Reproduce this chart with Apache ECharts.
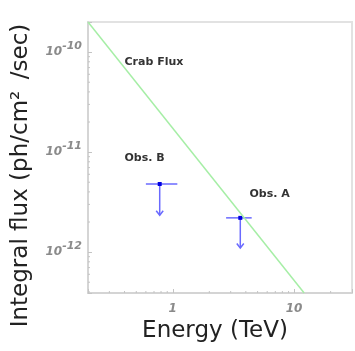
<!DOCTYPE html>
<html>
<head>
<meta charset="utf-8">
<script src="https://cdn.jsdelivr.net/npm/echarts@6/dist/echarts.min.js"></script>
<style>
  html, body { margin: 0; padding: 0; background: #fff; }
  #chart { width: 355px; height: 351px; }
</style>
</head>
<body>
<div id="chart"></div>
<script>
// Axis ranges (TeV, ph/cm^2/s)
var energyRange = [0.2, 30];
var fluxRange = [3.9e-13, 2.0e-10];

// Crab reference line end points
var crabEnergy = [0.2, 12.1];
var crabFlux = [2.0e-10, 3.9e-13];

// Upper limits for the two observations
var obsNames = ['Obs. B', 'Obs. A'];
var obsEnergy = [0.78, 3.6];
var obsEnergyLo = [0.60, 2.75];
var obsEnergyHi = [1.09, 4.47];
var obsFluxUL = [4.8e-12, 2.2e-12];
var obsArrowTo = [2.34e-12, 1.10e-12];

// Text annotations
var noteText = ['Crab Flux', 'Obs. B', 'Obs. A'];
var noteEnergy = [0.40, 0.40, 4.28];
var noteFlux = [7.9e-11, 8.7e-12, 3.8e-12];

// Minor tick mantissas for the log axes
var mantissas = [2, 3, 4, 5, 6, 7, 8, 9];
var xDecades = [0.1, 1, 10];
var yDecades = [1e-13, 1e-12, 1e-11, 1e-10];

function minorTicks(decades, range) {
  var out = [];
  decades.forEach(function (d) {
    mantissas.forEach(function (m) {
      var v = d * m;
      if (v > range[0] * 1.0001 && v < range[1] * 0.9999) out.push(v);
    });
  });
  return out;
}
var xMinor = minorTicks(xDecades, energyRange);
var yMinor = minorTicks(yDecades, fluxRange);

function isDecade(v) {
  var l = Math.log10(v);
  return Math.abs(l - Math.round(l)) < 1e-6;
}

var tickFont = {
  b: { fontSize: 12, fontWeight: 'bold', fontStyle: 'italic', color: '#8a8a8a', fontFamily: 'DejaVu Sans' },
  s: { fontSize: 11, fontWeight: 'bold', fontStyle: 'italic', color: '#8a8a8a', fontFamily: 'DejaVu Sans', padding: [0, 0, 11, 0] }
};

var chart = echarts.init(document.getElementById('chart'), null, { renderer: 'canvas' });

var option = {
  animation: false,
  backgroundColor: '#fff',
  grid: {
    left: 88, right: 2, top: 22, bottom: 58,
    show: true, borderColor: '#e2e2e2', borderWidth: 2, backgroundColor: 'transparent'
  },
  xAxis: {
    type: 'log', logBase: 10, min: energyRange[0], max: energyRange[1],
    name: 'Energy (TeV)', nameLocation: 'middle', nameGap: 24,
    nameTextStyle: { fontSize: 23, color: '#222', fontFamily: 'DejaVu Sans', padding: [0, 10, 0, 0] },
    axisLine: { show: true, lineStyle: { color: '#d0d0d0', width: 1.5 } },
    axisTick: { show: true, inside: true, length: 4, lineStyle: { color: '#c4c4c4' } },
    splitLine: { show: false },
    axisLabel: {
      margin: 10,
      formatter: function (v) { return isDecade(v) ? '{b|' + Math.round(v) + '}' : ''; },
      rich: tickFont
    }
  },
  yAxis: {
    type: 'log', logBase: 10, min: fluxRange[0], max: fluxRange[1],
    name: 'Integral flux (ph/cm\u00B2\u2002/sec)', nameLocation: 'middle', nameGap: 55,
    nameTextStyle: { fontSize: 23, color: '#222', fontFamily: 'DejaVu Sans', padding: [0, 36, 0, 0] },
    axisLine: { show: true, lineStyle: { color: '#d0d0d0', width: 1.5 } },
    axisTick: { show: true, inside: true, length: 4, lineStyle: { color: '#c4c4c4' } },
    splitLine: { show: false },
    axisLabel: {
      margin: 6,
      formatter: function (v) {
        if (!isDecade(v)) return '';
        return '{b|10}{s|' + Math.round(Math.log10(v)) + '}';
      },
      rich: tickFont
    }
  },
  series: [
    {
      // minor ticks along both axes
      type: 'custom',
      silent: true,
      clip: true,
      data: [0],
      renderItem: function (params, api) {
        var children = [];
        xMinor.forEach(function (v) {
          var p = api.coord([v, fluxRange[0]]);
          children.push({ type: 'line', shape: { x1: p[0], y1: p[1], x2: p[0], y2: p[1] - 2 },
            style: { stroke: '#c4c4c4', lineWidth: 1 } });
        });
        yMinor.forEach(function (v) {
          var p = api.coord([energyRange[0], v]);
          children.push({ type: 'line', shape: { x1: p[0], y1: p[1], x2: p[0] + 2, y2: p[1] },
            style: { stroke: '#c4c4c4', lineWidth: 1 } });
        });
        return { type: 'group', children: children };
      }
    },
    {
      name: 'Crab Flux',
      type: 'line',
      symbol: 'none',
      clip: true,
      data: crabEnergy.map(function (e, i) { return [e, crabFlux[i]]; }),
      lineStyle: { color: '#a6eea6', width: 1.5 }
    },
    {
      name: 'Upper limits',
      type: 'custom',
      data: obsEnergy.map(function (e, i) {
        return [e, obsFluxUL[i], obsEnergyLo[i], obsEnergyHi[i], obsArrowTo[i]];
      }),
      renderItem: function (params, api) {
        var pt = api.coord([api.value(0), api.value(1)]);
        var lo = api.coord([api.value(2), api.value(1)]);
        var hi = api.coord([api.value(3), api.value(1)]);
        var end = api.coord([api.value(0), api.value(4)]);
        var col = '#6a6aff';
        return {
          type: 'group',
          children: [
            { type: 'line', shape: { x1: lo[0], y1: lo[1], x2: hi[0], y2: hi[1] },
              style: { stroke: col, lineWidth: 1.5 } },
            { type: 'line', shape: { x1: pt[0], y1: pt[1], x2: end[0], y2: end[1] },
              style: { stroke: col, lineWidth: 1.5 } },
            { type: 'polyline', shape: { points: [[end[0] - 3.5, end[1] - 4.5], [end[0], end[1]], [end[0] + 3.5, end[1] - 4.5]] },
              style: { stroke: col, lineWidth: 1.5, fill: null } },
            { type: 'rect', shape: { x: pt[0] - 2, y: pt[1] - 2, width: 4, height: 4 },
              style: { fill: '#0000e0' } }
          ]
        };
      }
    },
    {
      name: 'Notes',
      type: 'custom',
      silent: true,
      data: noteText.map(function (t, i) { return [noteEnergy[i], noteFlux[i], i]; }),
      renderItem: function (params, api) {
        var p = api.coord([api.value(0), api.value(1)]);
        return {
          type: 'text',
          x: p[0], y: p[1],
          style: {
            text: noteText[api.value(2)],
            fill: '#333',
            font: 'bold 11px "DejaVu Sans"',
            align: 'left',
            verticalAlign: 'middle'
          }
        };
      }
    }
  ]
};

chart.setOption(option);
</script>
</body>
</html>
